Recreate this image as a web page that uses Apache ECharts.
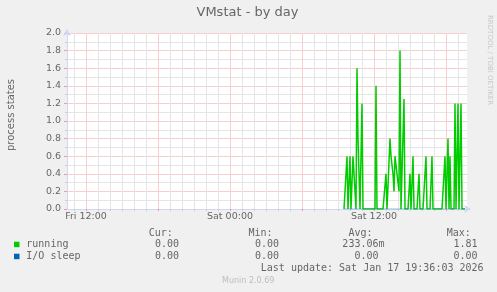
<!DOCTYPE html>
<html><head><meta charset="utf-8">
<script src="https://cdn.jsdelivr.net/npm/echarts@6/dist/echarts.min.js"></script>
<style>html,body{margin:0;padding:0;background:#f0f0f0;}#c{width:497px;height:292px;}</style>
</head><body><div id="c"></div>
<script>
// ---- data ----
const titleText = 'VMstat - by day';
const yAxisName = 'process states';
const watermark = 'RRDTOOL / TOBI OETIKER';
const footer = 'Munin 2.0.69';
const lastUpdate = 'Last update: Sat Jan 17 19:36:03 2026';
const dayNames = ['Fri', 'Sat'];
const startMinuteOfDay = 10 * 60 + 25;   // Fri 10:25
const stepMinutes = 5;
const pointCount = 401;
const tickLabels = ['Fri 12:00', 'Sat 00:00', 'Sat 12:00'];
const dataStartLabel = 'Sat 09:30';
const running = [
  0,0,0,0.6,0,0,0.6,0,0,0.6,0.4,0.4,0,1.6,0.8,0.8,0,0,1.2,
  0,0,0,0,0,0,0,0,0,0,0,0,0,1.4,
  0,0,0,0,0,0,0,0,0,0.4,0,0,0,
  0.8,0.6,0.6,0.4,0.2,0.6,0.6,0.4,0.4,0.2,
  1.8,0,0,0,1.25,0,0,0,0,0,0.4,0,0,0.6,0,0,0,0,0,0.4,
  0,0,0,0,0,0,0.6,0,0,0,0,0,0.6,
  0,0,0,0,0,0,0,0,0,0,0,0,0.6,0,0,0.8,0,0.6,0,0,0,0,1.2,0,0,1.2,0,0,1.2,0,0,0,0
];
const ioSleep = [
  0,0,0,0,0,0,0,0,0,0,0,0,0,0,0,0,0,0,0,0,0,0,0,0,0,0,0,0,0,0,0,0,0,0,0,0,0,0,0,0,
  0,0,0,0,0,0,0,0,0,0,0,0,0,0,0,0,0,0,0,0,0,0,0,0,0,0,0,0,0,0,0,0,0,0,0,0,0,0,0,0,
  0,0,0,0,0,0,0,0,0,0,0,0,0,0,0,0,0,0,0,0,0,0,0,0,0,0,0,0,0,0,0,0,0,0,0,0,0,0,0,0,0,0
];
const legendNames = ['running', 'I/O sleep'];
const legendColors = ['#00cc00', '#0066b3'];
const statHeaders = ['Cur:', 'Min:', 'Avg:', 'Max:'];
const curValues = ['0.00 ', '0.00 '];
const minValues = ['0.00 ', '0.00 '];
const avgValues = ['233.06m', '0.00 '];
const maxValues = ['1.81 ', '0.00 '];

// ---- build ----
const pad = n => String(n).padStart(2, '0');
const categories = [];
for (let k = 0; k < pointCount; k++) {
  const m = startMinuteOfDay + k * stepMinutes;
  const mm = m % 1440;
  categories.push(dayNames[Math.floor(m / 1440)] + ' ' + pad(Math.floor(mm / 60)) + ':' + pad(mm % 60));
}
const isHour = v => v.endsWith(':00');
const isSixHour = v => isHour(v) && (parseInt(v.slice(4, 6), 10) % 6 === 0);
const startIdx = categories.indexOf(dataStartLabel);
const runningData = running.map((v, i) => [categories[startIdx + i], v]);
const ioData = ioSleep.map((v, i) => [categories[startIdx + i], v]);

const axisColor = '#CFD6F8';
const fontColor = '#666666';
const gridGray = '#e5e5e5';
const gridRed = '#f8cfcf';
const tickGray = '#cccccc';
const tickRed = '#f29a9a';
const mono = '"DejaVu Sans Mono", monospace';
const sans = '"DejaVu Sans", sans-serif';

const graphics = [];
function txt(x, y, s, opt) {
  graphics.push(Object.assign({ type: 'text', x: x, y: y, silent: true,
    style: Object.assign({ text: s, fill: fontColor, font: '10px ' + mono, align: 'left', verticalAlign: 'middle' }, opt && opt.style || {}) },
    opt && opt.rotation !== undefined ? { rotation: opt.rotation } : {}));
}
txt(247.5, 12.5, titleText, { style: { font: '13px ' + sans, align: 'center' } });
txt(11, 115, yAxisName, { rotation: Math.PI / 2, style: { font: '10px ' + sans, align: 'center' } });
txt(490, 15, watermark, { rotation: -Math.PI / 2, style: { font: '7px ' + sans, fill: '#c8c8c8', align: 'left' } });
const headerX = [148.8, 248.5, 348.5, 446.8];
const valueRight = [185, 285, 384.5, 483.5];
const rowY = [244.5, 256.5];
statHeaders.forEach((h, i) => txt(headerX[i], 233, h));
legendNames.forEach((n, r) => {
  graphics.push({ type: 'rect', silent: true, shape: { x: 14, y: rowY[r] - 2.8, width: 5.5, height: 5.5 }, style: { fill: legendColors[r] } });
  txt(26.3, rowY[r], n);
  [curValues, minValues, avgValues, maxValues].forEach((col, c) => txt(valueRight[c], rowY[r], col[r], { style: { align: 'right' } }));
});
txt(260.8, 268.8, lastUpdate);
txt(222, 281, footer, { style: { font: '8px ' + sans, fill: '#bdbdbd' } });

const chart = echarts.init(document.getElementById('c'), null, { renderer: 'canvas' });
chart.setOption({
  animation: false,
  backgroundColor: '#f0f0f0',
  grid: { left: 67, top: 33, width: 400, height: 176, backgroundColor: '#ffffff', show: true, borderWidth: 0 },
  xAxis: [
    { type: 'category', data: categories, boundaryGap: false, position: 'bottom',
      axisLine: { show: true, lineStyle: { color: axisColor, width: 1 }, symbol: ['none', 'arrow'], symbolSize: [6, 7], symbolOffset: [0, 4] },
      axisTick: { show: true, interval: (i, v) => isHour(v), length: 2, lineStyle: { color: tickGray } },
      axisLabel: { show: false },
      splitLine: { show: true, interval: (i, v) => isHour(v), lineStyle: { color: gridGray, width: 1, type: 'solid' } } },
    { type: 'category', data: categories, boundaryGap: false, position: 'bottom',
      axisLine: { show: false },
      axisTick: { show: true, interval: (i, v) => isSixHour(v), length: 2, lineStyle: { color: tickRed } },
      axisLabel: { show: true, interval: (i, v) => tickLabels.includes(v), color: fontColor, fontSize: 9.5, fontFamily: sans, margin: 3, hideOverlap: false },
      splitLine: { show: true, interval: (i, v) => isSixHour(v), lineStyle: { color: gridRed, width: 1, type: 'solid' } } }
  ],
  yAxis: {
    type: 'value', min: 0, max: 2, interval: 0.2,
    axisLine: { show: true, lineStyle: { color: axisColor, width: 1 }, symbol: ['none', 'arrow'], symbolSize: [6, 7], symbolOffset: [0, 4] },
    axisTick: { show: true, length: 3, lineStyle: { color: tickRed } },
    minorTick: { show: true, splitNumber: 2, length: 2, lineStyle: { color: tickGray } },
    axisLabel: { color: fontColor, fontSize: 9.5, fontFamily: sans, margin: 6, formatter: v => v.toFixed(1) },
    splitLine: { show: true, lineStyle: { color: gridRed, width: 1, type: 'solid' } },
    minorSplitLine: { show: true, lineStyle: { color: gridGray, width: 1, type: 'solid' } }
  },
  series: [
    { name: legendNames[0], type: 'line', xAxisIndex: 0, data: runningData, symbol: 'none',
      lineStyle: { color: legendColors[0], width: 1.5 }, itemStyle: { color: legendColors[0] }, z: 3 },
    { name: legendNames[1], type: 'line', xAxisIndex: 0, data: ioData, symbol: 'none',
      lineStyle: { color: legendColors[1], width: 1, opacity: 0.45 }, itemStyle: { color: legendColors[1] }, z: 4 }
  ],
  graphic: graphics
});
</script></body></html>
